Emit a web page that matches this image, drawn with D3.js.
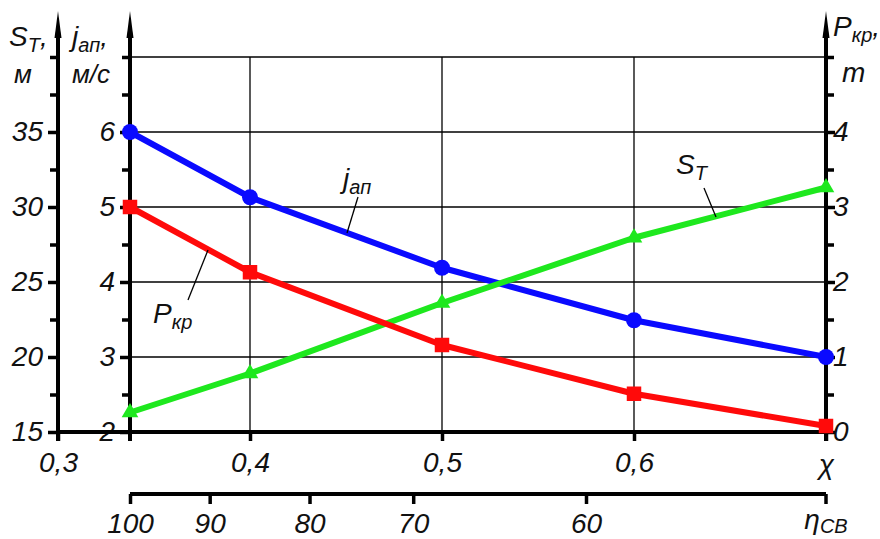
<!DOCTYPE html>
<html>
<head>
<meta charset="utf-8">
<script src="https://cdn.jsdelivr.net/npm/d3@7"></script>
<style>
  html, body { margin: 0; padding: 0; background: #fff; }
  svg { display: block; }
  text { font-family: 'Liberation Sans', Arial, sans-serif; font-style: italic; fill: #111; }
</style>
</head>
<body>
<svg id="chart" width="880" height="539"></svg>
<script>
// Relative parameter χ and the three measured quantities
const chi = [0.3375, 0.4, 0.5, 0.6, 0.7];
const jAp = [6.0, 5.13, 4.19, 3.49, 3.0];      // м/с
const pKr = [3.0, 2.13, 1.16, 0.51, 0.08];     // т
const sT  = [16.3, 18.9, 23.6, 27.95, 31.3];   // м

// Tick values
const chiTicks = [0.3, 0.4, 0.5, 0.6];
const sTicks = [15, 20, 25, 30, 35];
const sMinor = [17.5, 22.5, 27.5, 32.5, 37.5, 40];
const jTicks = [2, 3, 4, 5, 6];
const jMinor = [2.5, 3.5, 4.5, 5.5, 6.5, 7];
const pTicks = [0, 1, 2, 3, 4];
const pMinor = [0.5, 1.5, 2.5, 3.5, 4.5, 5];
// η_СВ scale: η values and the χ each one corresponds to
const etaTicks = [100, 90, 80, 70, 60];
const etaChi   = [0.3375, 0.379, 0.431, 0.485, 0.575];

const svg = d3.select("#chart");
const FS = 28, FSUB = 20;

const x = d3.scaleLinear().domain([0.3, 0.7]).range([58, 826]);
const yJ = d3.scaleLinear().domain([2, 7]).range([432, 57]);
const yS = d3.scaleLinear().domain([15, 40]).range([432, 57]);
const yP = d3.scaleLinear().domain([0, 5]).range([432, 57]);
const xEta = d3.scaleLinear().domain(etaTicks).range(etaChi.map(x));

const xL = x(chi[0]), xR = x(0.7), xS = x(0.3);
const yBase = yJ(2), yTop = yJ(7);
const comma = d3.format(".1f");
const fmtChi = d => comma(d).replace(".", ",");

// grid
const grid = svg.append("g").attr("stroke", "#000").attr("stroke-width", 1.3);
grid.selectAll("line.h").data(jTicks.slice(1).concat([7])).join("line")
  .attr("x1", xL).attr("x2", xR).attr("y1", d => yJ(d)).attr("y2", d => yJ(d));
grid.selectAll("line.v").data(chiTicks.slice(1)).join("line")
  .attr("x1", d => x(d)).attr("x2", d => x(d)).attr("y1", yTop).attr("y2", yBase);

// axes helpers
function styleAxis(g, w) {
  g.select(".domain").remove();
  g.selectAll(".tick line").attr("stroke", "#000").attr("stroke-width", w);
  g.selectAll(".tick text").attr("font-size", FS).attr("fill", "#111");
}
function arrowAxis(xp) {
  svg.append("line").attr("x1", xp).attr("x2", xp).attr("y1", yBase + 9).attr("y2", 34)
    .attr("stroke", "#000").attr("stroke-width", 4);
  svg.append("path")
    .attr("d", `M${xp},11 L${xp - 3.5},38 L${xp + 3.5},38 Z`)
    .attr("fill", "#000");
}

// S_T axis
svg.append("g").attr("transform", `translate(${xS},0)`)
  .call(d3.axisLeft(yS).tickValues(sTicks).tickSize(10).tickPadding(5).tickFormat(d3.format("d")))
  .call(g => styleAxis(g, 3.5));
svg.append("g").attr("transform", `translate(${xS},0)`)
  .call(d3.axisLeft(yS).tickValues(sMinor).tickSize(8).tickFormat(""))
  .call(g => styleAxis(g, 3.5));
arrowAxis(xS);

// j axis
svg.append("g").attr("transform", `translate(${xL},0)`)
  .call(d3.axisLeft(yJ).tickValues(jTicks).tickSize(10).tickPadding(5).tickFormat(d3.format("d")))
  .call(g => styleAxis(g, 3.5));
svg.append("g").attr("transform", `translate(${xL},0)`)
  .call(d3.axisLeft(yJ).tickValues(jMinor).tickSize(8).tickFormat(""))
  .call(g => styleAxis(g, 3.5));
arrowAxis(xL);

// P axis (right)
svg.append("g").attr("transform", `translate(${xR},0)`)
  .call(d3.axisRight(yP).tickValues(pTicks).tickSize(9).tickPadding(-2).tickFormat(d3.format("d")))
  .call(g => styleAxis(g, 3.5));
svg.append("g").attr("transform", `translate(${xR},0)`)
  .call(d3.axisRight(yP).tickValues(pMinor).tickSize(8).tickFormat(""))
  .call(g => styleAxis(g, 3.5));
arrowAxis(xR);

// χ axis
svg.append("line").attr("x1", xS).attr("x2", xR).attr("y1", yBase).attr("y2", yBase)
  .attr("stroke", "#000").attr("stroke-width", 4);
const gx = svg.append("g").attr("transform", `translate(0,${yBase})`)
  .call(d3.axisBottom(x).tickValues(chiTicks.concat([0.7])).tickSize(9).tickFormat(fmtChi))
  .call(g => styleAxis(g, 3.5));
gx.selectAll(".tick text").attr("y", 40).attr("dy", 0);
gx.selectAll(".tick").filter(d => d === 0.7).select("text").text("χ").attr("y", 42);

// η_СВ axis
const yEta = 494;
svg.append("line").attr("x1", xL).attr("x2", xR).attr("y1", yEta).attr("y2", yEta)
  .attr("stroke", "#000").attr("stroke-width", 4);
const ge = svg.append("g").attr("transform", `translate(0,${yEta})`)
  .call(d3.axisBottom(xEta).tickValues(etaTicks).tickSize(10).tickFormat(d3.format("d")))
  .call(g => styleAxis(g, 3.5));
ge.selectAll(".tick text").attr("y", 39).attr("dy", 0);
svg.append("line").attr("x1", xR).attr("x2", xR).attr("y1", yEta).attr("y2", yEta + 10)
  .attr("stroke", "#000").attr("stroke-width", 3.5);
const etaLab = svg.append("text").attr("x", xR).attr("y", 529).attr("text-anchor", "middle").attr("font-size", FS);
etaLab.append("tspan").text("η");
etaLab.append("tspan").attr("font-size", FSUB).attr("dy", 4).text("СВ");

// axis titles
function title(xp, yp, main, sub, tail) {
  const t = svg.append("text").attr("x", xp).attr("y", yp).attr("font-size", FS);
  t.append("tspan").text(main);
  t.append("tspan").attr("font-size", FSUB).attr("dy", 6).text(sub);
  t.append("tspan").attr("dy", -6).text(tail);
  return t;
}
title(9, 46, "S", "Т", ",");
svg.append("text").attr("x", 14).attr("y", 83).attr("font-size", 26).text("м");
title(72, 46, "j", "ап", ",");
svg.append("text").attr("x", 72).attr("y", 83).attr("font-size", 26).text("м/с");
title(833, 36, "P", "кр", ",");
svg.append("text").attr("x", 842).attr("y", 82).attr("font-size", FS).text("m");

// series
const pts = (ys, sc) => chi.map((c, i) => [x(c), sc(ys[i])]);
const series = [
  { data: pts(jAp, yJ), color: "#0a0aff", sym: d3.symbolCircle, size: 200 },
  { data: pts(sT, yS), color: "#1ee81e", sym: d3.symbolTriangle, size: 120 },
  { data: pts(pKr, yP), color: "#ff0a0a", sym: d3.symbolSquare, size: 210 }
];
const line = d3.line();
series.forEach(s => {
  svg.append("path").attr("d", line(s.data)).attr("fill", "none")
    .attr("stroke", s.color).attr("stroke-width", 6).attr("stroke-linejoin", "round");
  svg.append("g").selectAll("path").data(s.data).join("path")
    .attr("transform", d => `translate(${d[0]},${d[1]})`)
    .attr("d", d3.symbol(s.sym, s.size)).attr("fill", s.color);
});

// series labels with leader lines
function leader(x1, y1, x2, y2) {
  svg.append("line").attr("x1", x1).attr("y1", y1).attr("x2", x2).attr("y2", y2)
    .attr("stroke", "#000").attr("stroke-width", 1.3);
}
function seriesLabel(xp, yp, main, sub) {
  const t = svg.append("text").attr("x", xp).attr("y", yp).attr("font-size", FS);
  t.append("tspan").text(main);
  t.append("tspan").attr("font-size", FSUB).attr("dy", 6).text(sub);
}
seriesLabel(343, 188, "j", "ап");
leader(358, 197, 347, 233);
seriesLabel(153, 323, "P", "кр");
leader(188, 300, 208, 250);
seriesLabel(676, 174, "S", "Т");
leader(704, 188, 716, 217);
</script>
</body>
</html>
